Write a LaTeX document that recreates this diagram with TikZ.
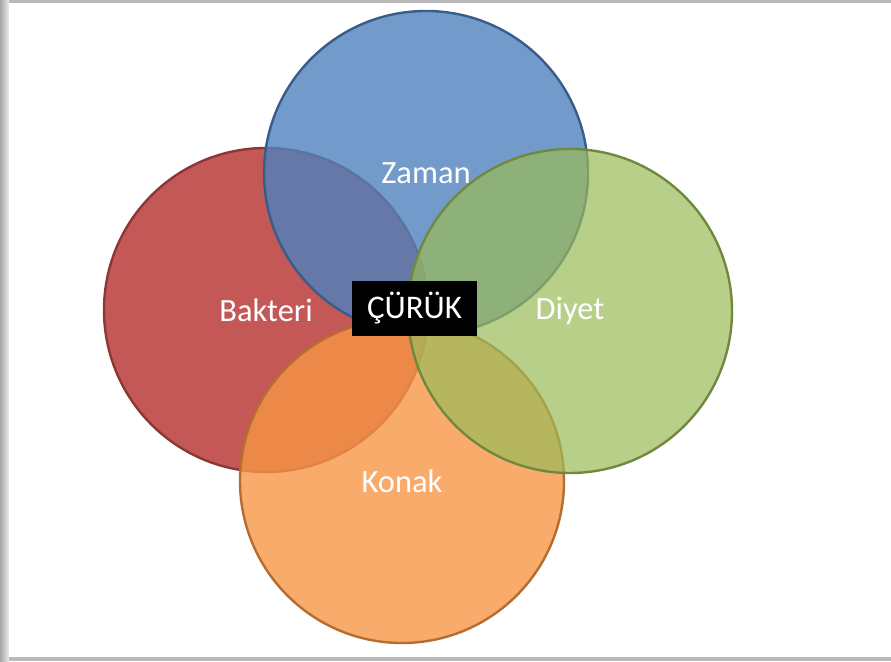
\documentclass[tikz,border=0pt]{standalone}
\usepackage{fontspec}
\setmainfont{Carlito}
\definecolor{cblue}{HTML}{4F81BD}
\definecolor{cblueb}{HTML}{385D8A}
\definecolor{cred}{HTML}{C0504D}
\definecolor{credb}{HTML}{8C3836}
\definecolor{cgreen}{HTML}{9BBB59}
\definecolor{cgreenb}{HTML}{71893F}
\definecolor{corange}{HTML}{F79646}
\definecolor{corangeb}{HTML}{B66D31}
\tikzset{
  venn/.style={circle, minimum size=324pt, inner sep=0pt, line width=2.4pt,
    fill opacity=0.8, text opacity=1, text=white,
    font=\fontsize{32.5}{38}\selectfont},
  label box/.style={fill=black, text=white, minimum width=125pt, minimum height=55pt,
    inner sep=0pt, font=\fontsize{33}{38}\selectfont}
}
\begin{document}
\begin{tikzpicture}[x=1pt,y=1pt]
\useasboundingbox (0,0) rectangle (891,661);
\fill[gray!55] (0,0) rectangle (891,661);
\shade[left color=gray!70, right color=gray!15] (0,0) rectangle (9,661);
\fill[white] (9,4) rectangle (891,658);
\node[venn, fill=cred, draw=credb, fill opacity=0.95] (bak) at (266,351) {Bakteri};
\node[venn, fill=cblue, draw=cblueb] (zam) at (426,488) {Zaman};
\node[venn, fill=corange, draw=corangeb] (kon) at (402,180) {Konak};
\node[venn, fill=cgreen, draw=cgreenb, fill opacity=0.7] (diy) at (570,350) {Diyet};
\node[label box] (cur) at (414.5,352.5) {ÇÜRÜK};
\end{tikzpicture}
\end{document}
